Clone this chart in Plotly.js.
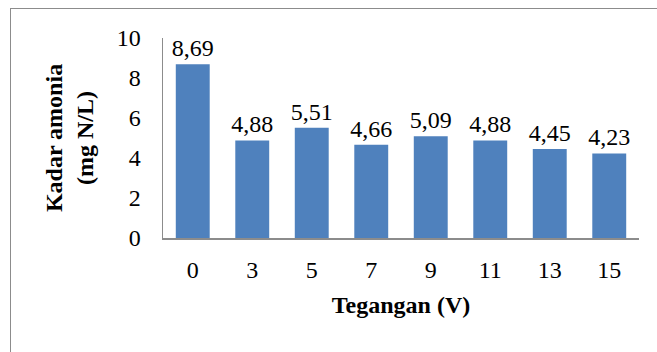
<!DOCTYPE html>
<html>
<head>
<meta charset="utf-8">
<script src="https://cdn.plot.ly/plotly-3.0.1.min.js"></script>
<style>
html,body{margin:0;padding:0;background:#fff;}
#wrap{position:relative;width:657px;height:352px;overflow:hidden;}
#frame{position:absolute;left:10px;top:8px;width:700px;height:400px;border-left:1px solid #8c8c8c;border-top:1px solid #8c8c8c;box-sizing:border-box;pointer-events:none;}
#chart{position:absolute;left:0;top:0;width:657px;height:352px;}
</style>
</head>
<body>
<div id="wrap">
<div id="chart"></div>
<div id="frame"></div>
</div>
<script>
const categories = ["0","3","5","7","9","11","13","15"];
const values = [8.69, 4.88, 5.51, 4.66, 5.09, 4.88, 4.45, 4.23];
const yTicks = [0, 2, 4, 6, 8, 10];

const font = "Liberation Serif";

Plotly.newPlot("chart", [{
  type: "bar",
  x: categories,
  y: values,
  marker: {color: "#4f81bd", line: {color: "#4f81bd", width: 0}},
  texttemplate: "%{y:.2f}",
  textposition: "outside",
  constraintext: "none",
  cliponaxis: false,
  textfont: {family: font, size: 24, color: "#000"},
  hoverinfo: "none"
}], {
  width: 657,
  height: 352,
  margin: {l: 163, r: 18, t: 38, b: 114, pad: 0},
  paper_bgcolor: "rgba(0,0,0,0)",
  plot_bgcolor: "#fff",
  separators: ", ",
  bargap: 0.43,
  showlegend: false,
  font: {family: font, color: "#000"},
  xaxis: {
    type: "category",
    showline: true,
    linecolor: "#8c8c8c",
    linewidth: 1.5,
    ticks: "",
    tickfont: {family: font, size: 24, color: "#000"},
    ticklabelstandoff: 10,
    title: {text: "<b>Tegangan (V)</b>", font: {family: font, size: 24, color: "#000"}, standoff: 14}
  },
  yaxis: {
    range: [0, 10],
    tickvals: yTicks,
    showline: true,
    linecolor: "#8c8c8c",
    linewidth: 1.5,
    showgrid: false,
    zeroline: false,
    ticks: "",
    tickfont: {family: font, size: 24, color: "#000"},
    ticklabelstandoff: 16,
    title: {text: "<b>Kadar amonia<br>(mg N/L)</b>", font: {family: font, size: 24, color: "#000"}, standoff: 16}
  }
}, {staticPlot: true, displayModeBar: false});
</script>
</body>
</html>
